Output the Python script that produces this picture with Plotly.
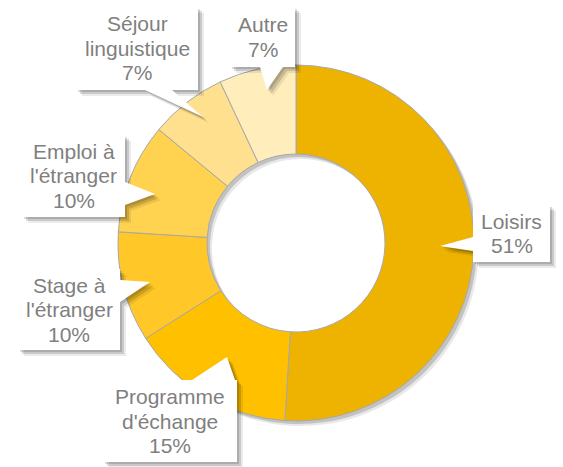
import plotly.graph_objects as go

W, H = 563, 467

# Data
categories = ["Loisirs", "Programme d'échange", "Stage à l'étranger",
              "Emploi à l'étranger", "Séjour linguistique", "Autre"]
shares = [51, 15, 10, 10, 7, 7]
label_lines = [["Loisirs"], ["Programme", "d'échange"], ["Stage à", "l'étranger"],
               ["Emploi à", "l'étranger"], ["Séjour", "linguistique"], ["Autre"]]

colors = ["#EDB300", "#FFC000", "#FFC828", "#FFD250", "#FFE08E", "#FFEDBC"]

# Callout geometry in pixels: box (x0, y0, x1, y1), tail base points, tail tip
callouts = [
    dict(box=(473, 205, 550, 262), base=((473, 237), (473, 251)), tip=(440, 246)),
    dict(box=(103, 380, 237, 462), base=((192, 380), (235, 380)), tip=(227, 357)),
    dict(box=(18, 269, 120, 350), base=((120, 280), (120, 302)), tip=(150, 282)),
    dict(box=(22, 135, 125, 217), base=((125, 182), (125, 205)), tip=(155, 194)),
    dict(box=(76, 7, 198, 90), base=((145, 90), (172, 90)), tip=(203, 117)),
    dict(box=(230, 7, 295, 67), base=((260, 67), (283, 67)), tip=(267, 90)),
]
LINE_GAP = 24.5


def fx(x):
    return x / W


def fy(y):
    return 1 - y / H


cx, cy, r = 296, 243, 178


def donut_domain(dx=0, dy=0):
    return dict(x=[fx(cx - r + dx), fx(cx + r + dx)],
                y=[fy(cy + r + dy), fy(cy - r + dy)])


fig = go.Figure()

# soft drop shadow under the ring
for off, alpha in [(5, 0.09), (3, 0.16)]:
    fig.add_trace(go.Pie(
        labels=categories, values=shares, hole=0.5, sort=False,
        direction="clockwise", rotation=0,
        marker=dict(colors=[f"rgba(0,0,0,{alpha})"] * len(shares)),
        textinfo="none", hoverinfo="skip", showlegend=False,
        domain=donut_domain(off, off),
    ))

fig.add_trace(go.Pie(
    labels=categories, values=shares, hole=0.5, sort=False,
    direction="clockwise", rotation=0,
    marker=dict(colors=colors, line=dict(color="#A8A8A8", width=1)),
    textinfo="none", showlegend=False,
    domain=donut_domain(),
))


def rect(x0, y0, x1, y1, fill):
    return dict(type="rect", xref="paper", yref="paper",
                x0=fx(x0), x1=fx(x1), y0=fy(y1), y1=fy(y0),
                fillcolor=fill, line=dict(width=0), layer="above")


def tri(p1, p2, p3, fill):
    path = "M {} {} L {} {} L {} {} Z".format(
        fx(p1[0]), fy(p1[1]), fx(p2[0]), fy(p2[1]), fx(p3[0]), fy(p3[1]))
    return dict(type="path", xref="paper", yref="paper", path=path,
                fillcolor=fill, line=dict(width=0), layer="above")


shapes = []
for off, alpha in [(6, 0.08), (4, 0.14), (2, 0.14)]:
    shade = f"rgba(0,0,0,{alpha})"
    for c in callouts:
        x0, y0, x1, y1 = c["box"]
        shapes.append(rect(x0 + off, y0 + off, x1 + off, y1 + off, shade))
        (a, b), t = c["base"], c["tip"]
        shapes.append(tri((a[0] + off, a[1] + off), (b[0] + off, b[1] + off),
                          (t[0] + off, t[1] + off), shade))
for c in callouts:
    x0, y0, x1, y1 = c["box"]
    shapes.append(rect(x0, y0, x1, y1, "white"))
    shapes.append(tri(c["base"][0], c["base"][1], c["tip"], "white"))

# one annotation per text line, to keep the tight line spacing
annotations = []
for lines, v, c in zip(label_lines, shares, callouts):
    x0, y0, x1, y1 = c["box"]
    rows = lines + [f"{v}%"]
    mid = (y0 + y1) / 2
    for i, row in enumerate(rows):
        yc = mid + (i - (len(rows) - 1) / 2) * LINE_GAP
        annotations.append(dict(
            x=fx((x0 + x1) / 2), y=fy(yc), xref="paper", yref="paper",
            text=row, showarrow=False, xanchor="center", yanchor="middle",
            font=dict(family="Liberation Sans, Arial, sans-serif", size=21,
                      color="#7F7F7F"),
        ))

fig.update_layout(
    width=W, height=H, margin=dict(l=0, r=0, t=0, b=0),
    paper_bgcolor="white", plot_bgcolor="white",
    shapes=shapes, annotations=annotations, showlegend=False,
)

fig.write_html("out.html")
